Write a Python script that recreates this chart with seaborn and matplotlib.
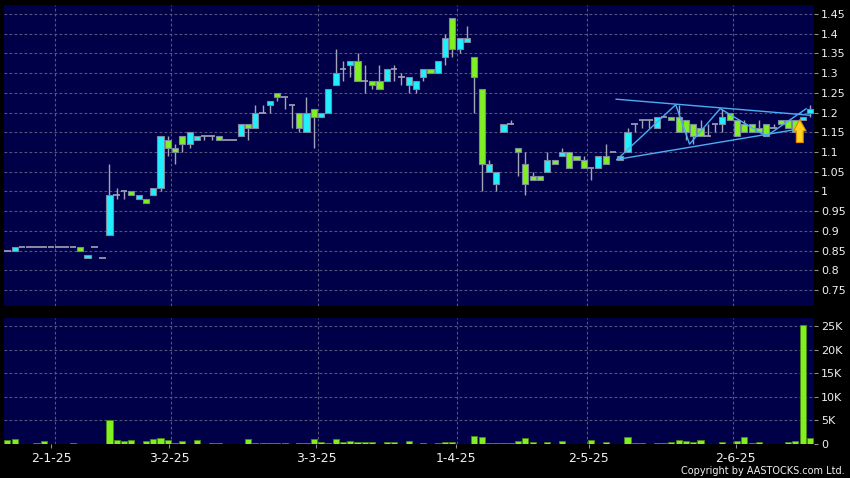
import pandas as pd
import matplotlib
matplotlib.use('Agg')
import matplotlib.pyplot as plt
import seaborn as sns

# daily prices, one entry per trading day on the chart
opens = [0.85, 0.85, 0.86, 0.86, 0.86, 0.86, 0.86, 0.86, 0.86, 0.86,
         0.86, 0.83, 0.86, 0.83, 0.89, 0.99, 1.00, 1.00, 0.98, 0.98,
         0.99, 1.01, 1.13, 1.11, 1.14, 1.12, 1.13, 1.14, 1.14, 1.14,
         1.13, 1.13, 1.14, 1.17, 1.16, 1.20, 1.22, 1.25, 1.24, 1.22,
         1.20, 1.15, 1.21, 1.19, 1.20, 1.27, 1.31, 1.32, 1.33, 1.28,
         1.28, 1.28, 1.28, 1.31, 1.29, 1.27, 1.26, 1.29, 1.31, 1.30,
         1.34, 1.44, 1.36, 1.38, 1.34, 1.26, 1.05, 1.02, 1.15, 1.17,
         1.11, 1.07, 1.04, 1.04, 1.05, 1.08, 1.09, 1.10, 1.09, 1.08,
         1.06, 1.06, 1.09, 1.10, 1.08, 1.10, 1.17, 1.18, 1.18, 1.16,
         1.19, 1.19, 1.19, 1.18, 1.17, 1.16, 1.14, 1.17, 1.17, 1.20,
         1.18, 1.17, 1.17, 1.16, 1.17, 1.16, 1.18, 1.18, 1.18, 1.18,
         1.20]
highs = [0.85, 0.86, 0.86, 0.86, 0.86, 0.86, 0.86, 0.86, 0.86, 0.86,
         0.86, 0.84, 0.86, 0.83, 1.07, 1.01, 1.00, 1.00, 0.99, 0.98,
         1.01, 1.14, 1.14, 1.12, 1.14, 1.15, 1.14, 1.14, 1.14, 1.14,
         1.13, 1.13, 1.17, 1.17, 1.22, 1.22, 1.23, 1.25, 1.24, 1.22,
         1.20, 1.24, 1.21, 1.20, 1.26, 1.36, 1.33, 1.33, 1.35, 1.32,
         1.28, 1.32, 1.31, 1.32, 1.30, 1.29, 1.28, 1.31, 1.31, 1.33,
         1.40, 1.44, 1.39, 1.42, 1.34, 1.26, 1.08, 1.05, 1.17, 1.18,
         1.11, 1.10, 1.05, 1.04, 1.10, 1.08, 1.11, 1.10, 1.09, 1.09,
         1.06, 1.09, 1.12, 1.10, 1.09, 1.16, 1.17, 1.18, 1.18, 1.19,
         1.19, 1.19, 1.22, 1.18, 1.17, 1.18, 1.17, 1.17, 1.21, 1.20,
         1.18, 1.18, 1.17, 1.18, 1.17, 1.17, 1.18, 1.18, 1.18, 1.19,
         1.22]
lows = [0.85, 0.85, 0.86, 0.86, 0.86, 0.86, 0.86, 0.86, 0.86, 0.86,
        0.85, 0.83, 0.86, 0.83, 0.89, 0.98, 0.98, 0.99, 0.98, 0.97,
        0.99, 1.00, 1.09, 1.07, 1.10, 1.11, 1.13, 1.13, 1.13, 1.13,
        1.13, 1.13, 1.14, 1.13, 1.16, 1.20, 1.20, 1.23, 1.21, 1.16,
        1.15, 1.15, 1.11, 1.19, 1.20, 1.27, 1.28, 1.29, 1.28, 1.25,
        1.26, 1.26, 1.28, 1.28, 1.27, 1.25, 1.25, 1.28, 1.30, 1.30,
        1.32, 1.34, 1.35, 1.38, 1.20, 1.00, 1.05, 1.00, 1.15, 1.17,
        1.04, 0.99, 1.03, 1.03, 1.05, 1.07, 1.09, 1.06, 1.08, 1.06,
        1.03, 1.06, 1.07, 1.10, 1.08, 1.10, 1.15, 1.16, 1.16, 1.16,
        1.19, 1.18, 1.15, 1.13, 1.12, 1.14, 1.14, 1.15, 1.15, 1.18,
        1.14, 1.15, 1.15, 1.15, 1.14, 1.16, 1.17, 1.16, 1.15, 1.18,
        1.19]
closes = [0.85, 0.86, 0.86, 0.86, 0.86, 0.86, 0.86, 0.86, 0.86, 0.86,
          0.85, 0.84, 0.86, 0.83, 0.99, 0.99, 1.00, 0.99, 0.99, 0.97,
          1.01, 1.14, 1.11, 1.10, 1.12, 1.15, 1.14, 1.14, 1.14, 1.13,
          1.13, 1.13, 1.17, 1.16, 1.20, 1.20, 1.23, 1.24, 1.24, 1.22,
          1.16, 1.20, 1.19, 1.20, 1.26, 1.30, 1.31, 1.33, 1.28, 1.28,
          1.27, 1.26, 1.31, 1.31, 1.29, 1.29, 1.28, 1.31, 1.30, 1.33,
          1.39, 1.36, 1.39, 1.39, 1.29, 1.07, 1.07, 1.05, 1.17, 1.17,
          1.10, 1.02, 1.03, 1.03, 1.08, 1.07, 1.10, 1.06, 1.08, 1.06,
          1.06, 1.09, 1.07, 1.10, 1.09, 1.15, 1.17, 1.18, 1.18, 1.19,
          1.19, 1.18, 1.15, 1.15, 1.14, 1.14, 1.14, 1.17, 1.19, 1.18,
          1.14, 1.15, 1.15, 1.15, 1.14, 1.16, 1.17, 1.16, 1.15, 1.19,
          1.21]
# volume in thousands of shares
volume_k = [0.86, 1.0, 0.1, 0, 0.29, 0.71, 0, 0, 0, 0.29,
            0, 0, 0, 0, 5.2, 0.86, 0.71, 0.86, 0.1, 0.57,
            1.0, 1.2, 0.86, 0.15, 0.71, 0, 0.86, 0, 0.15, 0.15,
            0, 0, 0, 1.0, 0.29, 0.29, 0.15, 0.15, 0.15, 0,
            0.15, 0.29, 1.0, 0.5, 0.2, 1.0, 0.36, 0.71, 0.43, 0.43,
            0.36, 0.1, 0.36, 0.5, 0, 0.71, 0, 0.3, 0, 0.2,
            0.43, 0.36, 0, 0.1, 1.64, 1.43, 0.2, 0.2, 0.2, 0.2,
            0.72, 1.36, 0.36, 0.1, 0.43, 0, 0.72, 0, 0, 0,
            0.86, 0, 0.5, 0, 0, 1.57, 0.2, 0.2, 0, 0.2,
            0.2, 0.5, 0.86, 0.57, 0.36, 0.79, 0, 0, 0.5, 0,
            0.72, 1.43, 0.2, 0.5, 0, 0.1, 0.1, 0.5, 0.72, 25.3,
            1.29]

date_labels = ['2-1-25', '3-2-25', '3-3-25', '1-4-25', '2-5-25', '2-6-25']
date_ticks = [6.0, 22.2, 42.3, 61.5, 79.7, 99.8]
date_grid = [6.5, 22.4, 42.6, 61.6, 79.4, 99.4]

price_ticks = [0.75, 0.8, 0.85, 0.9, 0.95, 1.0, 1.05, 1.1, 1.15, 1.2, 1.25, 1.3, 1.35, 1.4, 1.45]
price_labels = ['0.75', '0.8', '0.85', '0.9', '0.95', '1', '1.05', '1.1', '1.15', '1.2',
                '1.25', '1.3', '1.35', '1.4', '1.45']
vol_ticks = [0, 5, 10, 15, 20, 25]
vol_labels = ['0', '5K', '10K', '15K', '20K', '25K']

# triangle pattern drawn on the chart
zigzag_x = [83.5, 91.6, 93.5, 97.7, 104.0, 109.5]
zigzag_y = [1.08, 1.22, 1.12, 1.21, 1.14, 1.21]
upper_x = [83.4, 110.1]
upper_y = [1.234, 1.193]
lower_x = [83.5, 109.0]
lower_y = [1.081, 1.16]
arrow_day = 108.6
arrow_from = 1.124
arrow_to = 1.182

df = pd.DataFrame({'day': range(len(opens)), 'open': opens, 'high': highs,
                   'low': lows, 'close': closes, 'volume': volume_k})

navy = '#000048'
grid_col = '#55557f'
wick_col = '#a4a4b8'
up_col = '#1ff0ff'
down_col = '#80f020'
text_col = '#f0f0f0'

sns.set_theme(style='dark', rc={'axes.facecolor': navy, 'figure.facecolor': 'black'})
plt.rcParams['font.family'] = ['DejaVu Sans']

fig = plt.figure(figsize=(8.5, 4.78), dpi=100, facecolor='black')
ax1 = fig.add_axes([4 / 850, 172 / 478, 810 / 850, 301 / 478])
ax2 = fig.add_axes([4 / 850, 34 / 478, 810 / 850, 126 / 478])

# candles
ax1.vlines(df['day'], df['low'], df['high'], color=wick_col, lw=1, zorder=2)
up = df[df['close'] > df['open']]
down = df[df['close'] < df['open']]
flat = df[df['close'] == df['open']]
ax1.bar(up['day'], up['close'] - up['open'], bottom=up['open'], width=0.84,
        color=up_col, edgecolor='#7c8aa0', linewidth=0.8, zorder=3)
ax1.bar(down['day'], down['open'] - down['close'], bottom=down['close'], width=0.84,
        color=down_col, edgecolor='#7c8aa0', linewidth=0.8, zorder=3)
ax1.hlines(flat['open'], flat['day'] - 0.46, flat['day'] + 0.46, color=wick_col, lw=1.2, zorder=3)

# pattern lines
pattern_col = '#4aaef0'
sns.lineplot(x=zigzag_x, y=zigzag_y, ax=ax1, color=pattern_col, lw=1, sort=False, estimator=None, zorder=4)
sns.lineplot(x=upper_x, y=upper_y, ax=ax1, color=pattern_col, lw=1, sort=False, estimator=None, zorder=4)
sns.lineplot(x=lower_x, y=lower_y, ax=ax1, color=pattern_col, lw=1, sort=False, estimator=None, zorder=4)
ax1.annotate('', xy=(arrow_day, arrow_to), xytext=(arrow_day, arrow_from),
             arrowprops=dict(arrowstyle='simple,head_length=0.9,head_width=1.0,tail_width=0.55',
                             fc='#ffd21f', ec='#e08a00', lw=0.8, mutation_scale=9,
                             shrinkA=0, shrinkB=0), zorder=5)

# volume
sns.barplot(x=df['day'], y=df['volume'], ax=ax2, color=down_col, saturation=1,
            width=0.84, edgecolor='#4a8a10', linewidth=0.6, zorder=3)

for ax in (ax1, ax2):
    ax.set_facecolor(navy)
    ax.set_xlim(-0.45, 110.55)
    for s in ax.spines.values():
        s.set_visible(False)
    ax.yaxis.tick_right()
    ax.grid(False)
    ax.yaxis.grid(True, color=grid_col, ls=(0, (2.5, 2)), lw=0.8)
    for g in date_grid:
        ax.axvline(g, color=grid_col, ls=(0, (2.5, 2)), lw=0.8, zorder=1)
    ax.set_axisbelow(True)
    ax.set_xlabel('')
    ax.set_ylabel('')
    ax.tick_params(axis='y', which='both', right=True, left=False, labelright=True,
                   labelleft=False, length=3, width=0.8, color='#909090', pad=2,
                   labelsize=8, labelcolor=text_col)

ax1.set_ylim(0.7095, 1.4728)
ax1.set_yticks(price_ticks)
ax1.set_yticklabels(price_labels)
ax1.set_xticks([])

ax2.set_ylim(0, 26.8)
ax2.set_yticks(vol_ticks)
ax2.set_yticklabels(vol_labels)
ax2.set_xticks(date_ticks)
ax2.set_xticklabels(date_labels)
ax2.tick_params(axis='x', bottom=True, length=3, width=0.8, color='#909090', pad=3,
                labelsize=9, labelcolor=text_col)

fig.text(845 / 850, 4 / 478, 'Copyright by AASTOCKS.com Ltd.', ha='right', va='baseline',
         color=text_col, fontsize=7)

fig.savefig('out.png', dpi=100, facecolor='black')
